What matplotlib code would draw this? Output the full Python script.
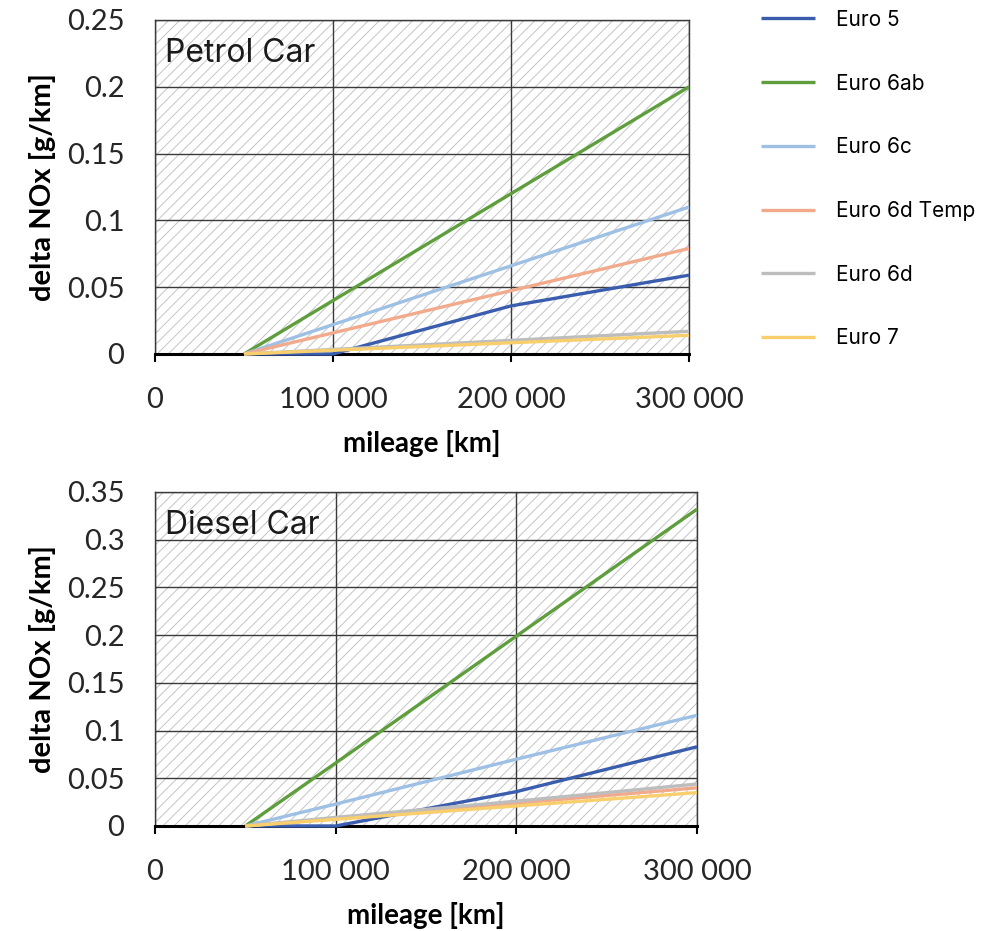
import matplotlib
matplotlib.use('Agg')
import matplotlib.pyplot as plt
from matplotlib.patches import Rectangle
from matplotlib.ticker import FuncFormatter

# ---------------- data ----------------
mileage = [50000, 100000, 200000, 300000]
series_names = ['Euro 5', 'Euro 6ab', 'Euro 6c', 'Euro 6d Temp', 'Euro 6d', 'Euro 7']
series_colors = ['#3a5dae', '#5e9e3c', '#9dc0e4', '#f2aa8c', '#bdbdbd', '#f8cf6c']

petrol = {
    'Euro 5':       [0, 0, 0.036, 0.059],
    'Euro 6ab':     [0, 0.040, 0.120, 0.200],
    'Euro 6c':      [0, 0.022, 0.066, 0.110],
    'Euro 6d Temp': [0, 0.0158, 0.0474, 0.079],
    'Euro 6d':      [0, 0.0034, 0.0102, 0.017],
    'Euro 7':       [0, 0.0028, 0.0084, 0.014],
}
diesel = {
    'Euro 5':       [0, 0, 0.036, 0.083],
    'Euro 6ab':     [0, 0.066, 0.199, 0.332],
    'Euro 6c':      [0, 0.023, 0.070, 0.116],
    'Euro 6d Temp': [0, 0.008, 0.024, 0.040],
    'Euro 6d':      [0, 0.009, 0.026, 0.044],
    'Euro 7':       [0, 0.007, 0.021, 0.035],
}
x_ticks = [0, 100000, 200000, 300000]
petrol_yticks = [0, 0.05, 0.1, 0.15, 0.2, 0.25]
diesel_yticks = [0, 0.05, 0.1, 0.15, 0.2, 0.25, 0.3, 0.35]

# ---------------- style ----------------
W, H = 996, 931
tick_font = 'Lato'
text_font = 'Inter'
plt.rcParams['hatch.linewidth'] = 0.7


def thousands(v, pos):
    return f"{int(v):,}".replace(',', ' ')


def yfmt(v, pos):
    return f"{v:g}"


def panel(fig, rect_px, data, yticks, title):
    l, t, r, b = rect_px
    ax = fig.add_axes([l / W, 1 - b / H, (r - l) / W, (b - t) / H])
    ax.set_xlim(0, 300000)
    ax.set_ylim(yticks[0], yticks[-1])
    ax.add_patch(Rectangle((0, 0), 1, 1, transform=ax.transAxes, facecolor='white',
                           edgecolor='#c4c4c4', hatch='///', lw=0, zorder=0))
    ax.set_xticks(x_ticks)
    ax.set_yticks(yticks)
    ax.grid(True, color='#3a3a3a', lw=1.0, zorder=1)
    ax.set_axisbelow(True)
    for name, col in zip(series_names, series_colors):
        ax.plot(mileage, data[name], color=col, lw=2.4, label=name,
                zorder=3, clip_on=False, solid_capstyle='butt')
    for s in ['top', 'right', 'left']:
        ax.spines[s].set_color('#3a3a3a')
        ax.spines[s].set_linewidth(1.0)
    ax.spines['bottom'].set_color('black')
    ax.spines['bottom'].set_linewidth(2.2)
    ax.xaxis.set_major_formatter(FuncFormatter(thousands))
    ax.yaxis.set_major_formatter(FuncFormatter(yfmt))
    ax.tick_params(axis='x', direction='out', length=6, width=1.5, pad=18,
                   labelsize=21, colors='black')
    ax.tick_params(axis='y', length=0, pad=22, labelsize=21)
    for lab in ax.get_xticklabels() + ax.get_yticklabels():
        lab.set_fontfamily(tick_font)
        lab.set_color('#262626')
    ax.set_xlabel('mileage [km]', fontsize=20, fontweight='bold',
                  fontfamily=tick_font, labelpad=12)
    ax.set_ylabel('delta NOx [g/km]', fontsize=21, fontweight='bold',
                  fontfamily=tick_font, labelpad=8)
    ax.text(0.018, 0.9, title, transform=ax.transAxes, fontsize=23,
            fontfamily=text_font, va='center', ha='left', color='#1a1a1a', zorder=4)
    return ax


fig = plt.figure(figsize=(W / 100, H / 100), dpi=100)
ax1 = panel(fig, (155, 20, 689, 354), petrol, petrol_yticks, 'Petrol Car')
ax2 = panel(fig, (155, 492, 697, 826), diesel, diesel_yticks, 'Diesel Car')

handles, labels = ax1.get_legend_handles_labels()
fig.legend(handles, labels, loc='upper left', bbox_to_anchor=(742 / W, 1 + 9 / H),
           frameon=False, prop={'family': text_font, 'size': 15},
           handlelength=2.6, handletextpad=1.0, labelspacing=2.1)

fig.savefig('out.png', dpi=100)
